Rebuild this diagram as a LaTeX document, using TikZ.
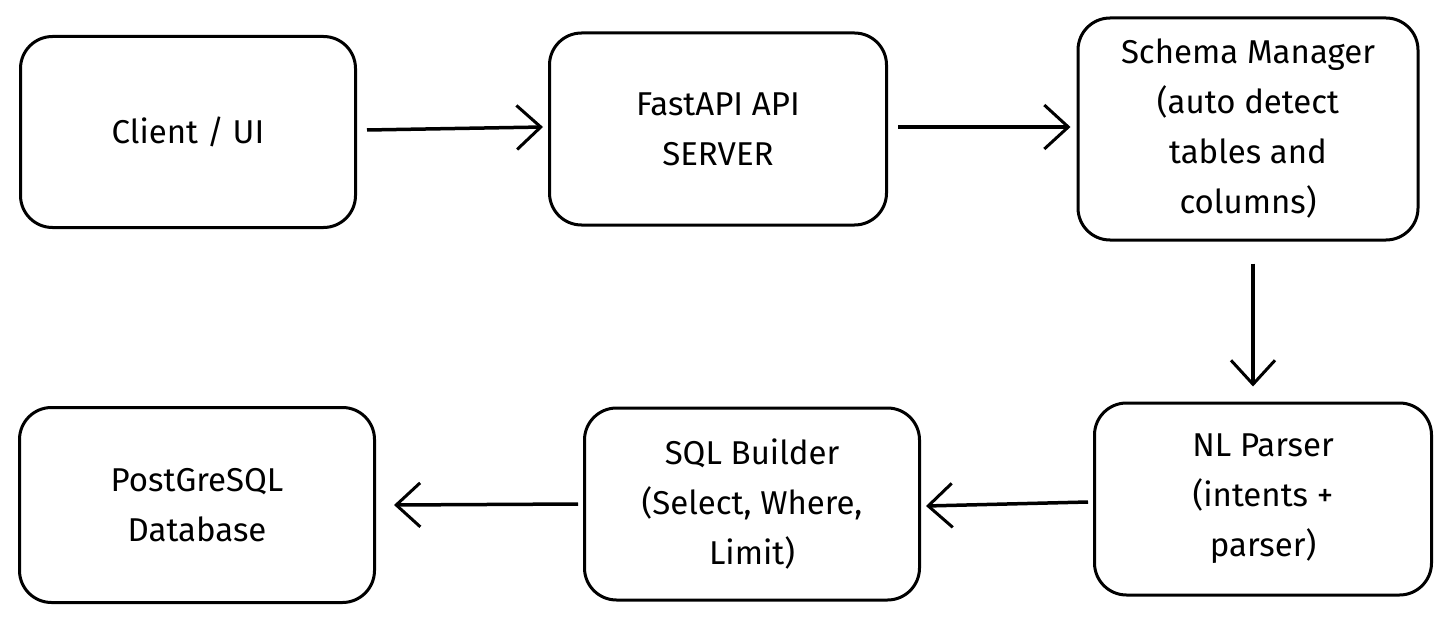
\documentclass[tikz,border=0pt]{standalone}
\usepackage{fontspec}
\setmainfont{Fira Sans}
\usetikzlibrary{arrows.meta}
\begin{document}
\begin{tikzpicture}[x=1pt,y=-1pt,
  box/.style={draw,line width=3pt,rounded corners=32pt,align=center,font=\fontsize{33}{50}\selectfont,inner sep=0pt},
  arr/.style={line width=3.5pt,-{Straight Barb[length=24pt,width=44pt,line width=3pt]}}]
\useasboundingbox (0,0) rectangle (1451,623);
\node[box,minimum width=335pt,minimum height=191pt] (client) at (188,132) {Client / UI};
\node[box,minimum width=337pt,minimum height=192pt] (api) at (718,129) {FastAPI API\\SERVER};
\node[box,minimum width=340pt,minimum height=222pt] (schema) at (1248,129) {Schema Manager\\(auto detect\\tables and\\columns)};
\node[box,minimum width=337pt,minimum height=192pt] (nl) at (1263,499) {NL Parser\\(intents +\\parser)};
\node[box,minimum width=335pt,minimum height=192pt] (sql) at (752,504) {SQL Builder\\(Select, Where,\\Limit)};
\node[box,minimum width=355pt,minimum height=195pt] (pg) at (197,505) {PostGreSQL\\Database};
\draw[arr] ([xshift=10pt,yshift=2pt]client.east) -- ([xshift=-5pt,yshift=2pt]api.west);
\draw[arr] ([xshift=10pt,yshift=2pt]api.east) -- ([xshift=-6pt,yshift=2pt]schema.west);
\draw[arr] ([xshift=5pt,yshift=-22pt]schema.south) -- ([xshift=-10pt,yshift=15pt]nl.north);
\draw[arr] ([xshift=-5pt,yshift=-3pt]nl.west) -- ([xshift=5pt,yshift=-2pt]sql.east);
\draw[arr] ([xshift=-5pt]sql.west) -- ([xshift=18pt]pg.east);
\end{tikzpicture}
\end{document}
